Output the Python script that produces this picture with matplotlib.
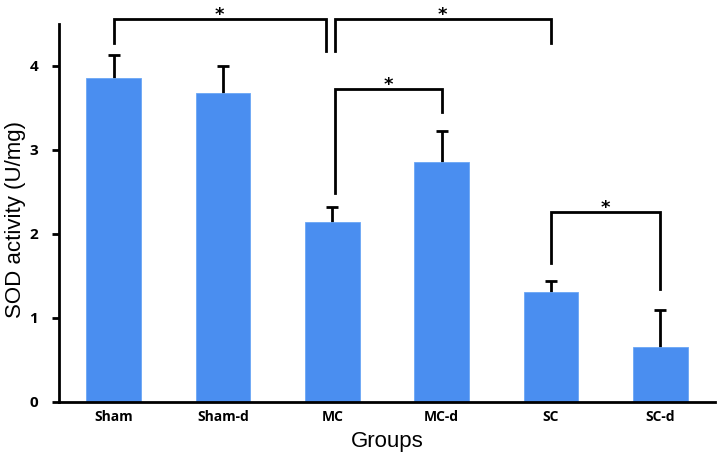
import numpy as np
import matplotlib
matplotlib.use('Agg')
import matplotlib.pyplot as plt

# group names and SOD activity (mean, upper error)
groups = ['Sham', 'Sham-d', 'MC', 'MC-d', 'SC', 'SC-d']
sod_mean = [3.86, 3.68, 2.14, 2.85, 1.31, 0.65]
sod_err = [0.27, 0.32, 0.18, 0.37, 0.13, 0.44]

# significance brackets: (left group, right group, bar height, left leg end, right leg end)
brackets = [
    (0, 2, 4.56, 4.27, 4.18),
    (2, 4, 4.56, 4.18, 4.27),
    (2, 3, 3.72, 2.48, 3.45),
    (4, 5, 2.26, 1.65, 1.34),
]

fig = plt.figure(figsize=(7.24, 4.61), dpi=100)
ax = fig.add_axes([0.0815, 0.129, 0.906, 0.819])

x = np.arange(len(groups))
# error bars behind the bars, so only the upper half shows
ax.errorbar(x, sod_mean, yerr=sod_err, fmt='none',
            ecolor='black', elinewidth=2, capsize=4, capthick=2, zorder=1)
ax.bar(x, sod_mean, width=0.5, color='#4a8ef0', edgecolor='#6aa6f5', linewidth=0.6, zorder=2)

# brackets with stars
for a, b, h, la, lb in brackets:
    xa = a + 0.02 if (a, b) == (2, 4) or (a, b) == (2, 3) else a
    xb = b - 0.06 if (a, b) == (0, 2) else b
    ax.plot([xa, xa, xb, xb], [la, h, h, lb], color='black', lw=2,
            clip_on=False, solid_joinstyle='miter', zorder=4)
    ax.text((xa + xb) / 2, h + 0.05, '*', ha='center', va='center',
            fontsize=13, fontweight='bold', clip_on=False)

ax.set_xlim(-0.5, 5.5)
ax.set_ylim(0, 4.5)
ax.set_yticks([0, 1, 2, 3, 4])
ax.set_xticks(x)
ax.set_xticklabels(groups, fontsize=10, fontweight='bold', family='Open Sans')
for lab in ax.get_yticklabels():
    lab.set_fontsize(11)
    lab.set_fontweight('bold')
    lab.set_family('Open Sans')

ax.spines['top'].set_visible(False)
ax.spines['right'].set_visible(False)
ax.spines['left'].set_linewidth(2)
ax.spines['bottom'].set_linewidth(2)
ax.tick_params(axis='x', length=0, pad=6)
ax.tick_params(axis='y', length=5, width=2, direction='out', pad=10)

ax.set_ylabel('SOD activity (U/mg)', fontsize=16, family='Liberation Sans')
ax.yaxis.set_label_coords(-0.051, 0.483)
ax.set_xlabel('Groups', fontsize=16, family='Liberation Sans', labelpad=5)

fig.savefig('out.png', dpi=100)
